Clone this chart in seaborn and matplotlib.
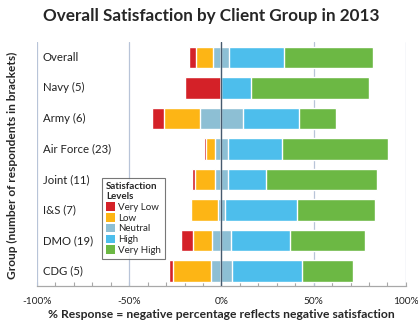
import matplotlib
matplotlib.use("Agg")
import matplotlib.pyplot as plt
from matplotlib.patches import Patch
from matplotlib.ticker import MultipleLocator, FuncFormatter
import seaborn as sns
import pandas as pd

groups = ["Overall", "Navy (5)", "Army (6)", "Air Force (23)", "Joint (11)",
          "I&S (7)", "DMO (19)", "CDG (5)"]
very_low = [4.0, 20.0, 6.7, 1.5, 1.4, 0.0, 6.6, 2.2]
low = [9.5, 0.0, 19.4, 4.5, 11.0, 14.9, 10.2, 20.5]
neutral = [8.7, 0.0, 23.6, 7.2, 6.9, 3.6, 10.3, 11.8]
high = [29.8, 16.0, 30.3, 29.5, 20.5, 39.0, 32.1, 38.0]
very_high = [48.0, 64.0, 20.0, 57.3, 60.2, 42.5, 40.8, 27.5]

levels = ["Very Low", "Low", "Neutral", "High", "Very High"]
colors = ["#D42128", "#FDB515", "#8DBFD4", "#4DBEEC", "#6CB844"]

sns.set_theme(style="white")
plt.rcParams["font.family"] = ["Lato", "DejaVu Sans"]

df = pd.DataFrame({"group": groups, "vl": very_low, "low": low, "neu": neutral,
                   "high": high, "vh": very_high})
half = df["neu"] / 2
# cumulative extents, drawn from the outside in so each segment overlays the next
layers = [
    (-(df["vl"] + df["low"] + half), colors[0]),
    (-(df["low"] + half), colors[1]),
    (-half, colors[2]),
    (half + df["high"] + df["vh"], colors[4]),
    (half + df["high"], colors[3]),
    (half, colors[2]),
]

fig = plt.figure(figsize=(4.18, 3.24), dpi=100)
ax = fig.add_axes([0.0885, 0.117, 0.8825, 0.753])

for vals, col in layers:
    sns.barplot(x=vals, y=df["group"], orient="h", color=col, width=0.71,
                saturation=1, ax=ax, zorder=2)

ax.set_xlim(-100, 100)
ax.set_ylim(7.5, -0.5)

for xv in (-100, -50, 50, 100):
    ax.axvline(xv, color="#B8C4D8", lw=0.9, zorder=1)
ax.axvline(0, color="#465A6E", lw=1.0, zorder=3)

for s in ("top", "right", "left"):
    ax.spines[s].set_visible(False)
ax.spines["bottom"].set_color("#A8A8A8")
ax.spines["bottom"].set_linewidth(0.9)

ax.xaxis.set_major_locator(MultipleLocator(50))
ax.xaxis.set_minor_locator(MultipleLocator(10))
ax.xaxis.set_major_formatter(FuncFormatter(lambda v, p: f"{int(round(v))}%"))
ax.tick_params(axis="x", which="both", direction="in", bottom=True,
               color="#A8A8A8", length=3, width=0.8, labelsize=7.3, pad=8,
               labelcolor="#222222")
ax.set_yticks([])
ax.set_ylabel("")
ax.set_xlabel("% Response = negative percentage reflects negative satisfaction",
              fontsize=8.7, fontweight="bold", labelpad=2)

for i, g in enumerate(groups):
    ax.text(-97, i, g, ha="left", va="center", fontsize=8.2, color="#222222", zorder=4)

fig.text(0.03, 0.49, "Group (number of respondents in brackets)", rotation=90,
         ha="center", va="center", fontsize=8.6, fontweight="bold")
fig.suptitle("Overall Satisfaction by Client Group in 2013", x=0.505, y=0.975,
             fontsize=12.3, fontweight="bold")

handles = [Patch(facecolor=c, edgecolor="none") for c in colors]
leg = ax.legend(handles, levels, title="Satisfaction\nLevels", loc="upper left",
                bbox_to_anchor=(0.175, 0.445), fontsize=7, title_fontsize=7,
                frameon=True, fancybox=False, handlelength=0.95, handleheight=0.95,
                handletextpad=0.3, labelspacing=0.12, borderpad=0.45,
                borderaxespad=0)
leg._legend_box.align = "left"
leg.get_title().set_fontweight("bold")
leg.get_frame().set_edgecolor("#555555")
leg.get_frame().set_linewidth(0.8)
leg.set_zorder(5)

fig.savefig("out.png", dpi=100)
